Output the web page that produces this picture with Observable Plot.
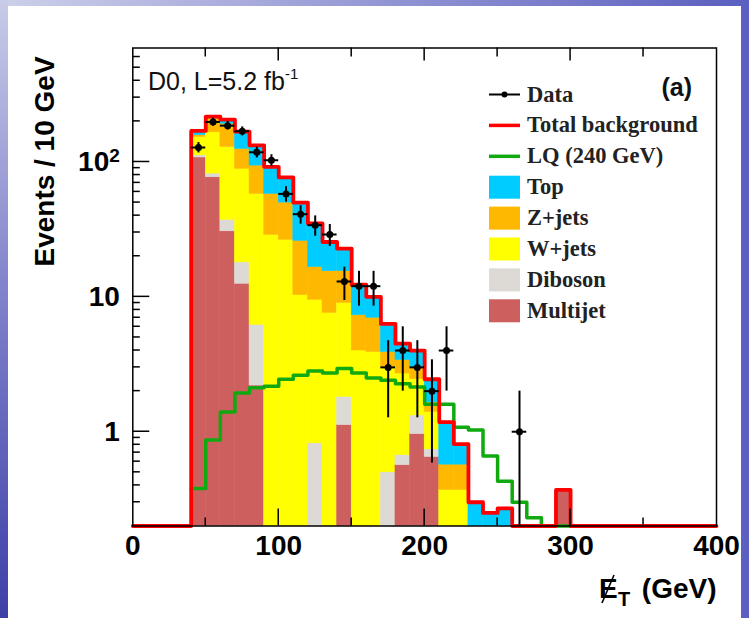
<!DOCTYPE html>
<html><head><meta charset="utf-8">
<script src="https://cdn.jsdelivr.net/npm/d3@7"></script>
<script src="https://cdn.jsdelivr.net/npm/@observablehq/plot@0.6"></script>
<style>
html,body{margin:0;padding:0;}
#slide{position:relative;width:749px;height:618px;overflow:hidden;
 background:linear-gradient(to right,#cdd0ea 0%,#9a9dd6 45%,#5b5fbf 100%);}
#leftstrip{position:absolute;left:0;top:0;width:8px;height:618px;background:linear-gradient(to bottom,#c9cbe8,#8385cc 45%,#3d3fa8);}
#panel{position:absolute;left:8px;top:6px;width:733px;height:612px;background:#fff;}
#chart{position:absolute;left:0;top:0;}
</style></head>
<body><div id="slide"><div id="leftstrip"></div><div id="panel"></div><div id="chart"></div></div>
<script>
// ---- data (bins of 10 GeV, lower edges) ----
const binStart = [40,50,60,70,80,90,100,110,120,130,140,150,160,170,180,190,200,210,220,230,240,250,260,270,280,290];
const binWidth = 10;
const multijet = [108,77,30.6,12.5,2.2,0,0,0,0,0,1.12,0,0,0,0.565,0.96,0.65,0,0,0,0,0,0,0,0,0.37];
const diboson  = [4,5,6.6,5.5,4.0,0,0,0,0.82,0,0.69,0,0,0.5,0.105,0.36,0.09,0,0,0,0,0,0,0,0,0];
const wjets    = [41,84,91.8,71,51.8,28.8,26.5,10.3,8.7,7.6,7.2,4.0,3.9,2.5,2.03,1.13,0.66,0.37,0.37,0.1,0.08,0.05,0,0,0,0];
const zjets    = [5,44,63,36,36,29.2,23.5,15.7,7.1,7.9,6.5,3.3,3.1,0.9,0.7,0.55,0.25,0.2,0.2,0.05,0.07,0.05,0,0,0,0];
const topq     = [12,7,14,43,39,34,27,24,18.4,10,7.3,5.0,3.0,2.4,1.1,1.0,0.8,0.61,0.24,0.15,0.10,0.17,0,0,0,0];
const lq240    = [0.38,0.87,1.40,1.94,2.12,2.17,2.45,2.62,2.82,2.73,2.94,2.73,2.50,2.41,2.27,2.15,1.60,1.60,1.08,1.03,0.66,0.43,0.30,0.23,0.15,0.10];
const dataCounts = [128,198,186,169,118,103,58,41,34,29,13,12,12,3,4,3,2,4,0,0,0,0,1,0,0,0];

const components = ["Multijet","Diboson","W+jets","Z+jets","Top"];
const compColors = ["#cd5f5f","#ddd9d5","#ffff00","#ffb800","#00ccff"];
const legendLabels = ["Data","Total background","LQ (240 GeV)","Top","Z+jets","W+jets","Diboson","Multijet"];
const xTicks = [0,100,200,300,400];
const xMinorTicks = [50,150,250,350];
const xMajorInner = [100,200,300];
const yTicks = [1,10,100];
const yMinorTicks = [0.3,0.4,0.5,0.6,0.7,0.8,0.9,2,3,4,5,6,7,8,9,20,30,40,50,60,70,80,90,200,300,400,500,600];
const yMin = 0.2, yMax = 700;

// ---- derived tables ----
const series = [multijet, diboson, wjets, zjets, topq];
const rects = [];
binStart.forEach((x0, i) => {
  let cum = 0;
  series.forEach((s, k) => {
    const lo = cum, hi = cum + s[i];
    cum = hi;
    if (s[i] > 0 && hi > yMin) rects.push({x1: x0, x2: x0 + binWidth, y1: Math.max(lo, yMin), y2: hi, comp: components[k]});
  });
});
const totals = binStart.map((_, i) => series.reduce((a, s) => a + s[i], 0));
const cl = v => Math.max(v, yMin);
const lastEdge = binStart[binStart.length - 1] + binWidth;
const redPts = [{x: 0, y: yMin}, ...binStart.map((x, i) => ({x, y: cl(totals[i])})), {x: lastEdge, y: yMin}, {x: 400, y: yMin}];
const greenPts = [...binStart.map((x, i) => ({x, y: cl(lq240[i])})), {x: lastEdge, y: yMin}];
const dataPts = binStart.map((x, i) => ({
  x: x + binWidth / 2, x1: x, x2: x + binWidth, n: dataCounts[i],
  lo: cl(dataCounts[i] - Math.sqrt(dataCounts[i])), hi: dataCounts[i] + Math.sqrt(dataCounts[i])
})).filter(d => d.n > 0);

const plot = Plot.plot({
  width: 749, height: 618,
  marginLeft: 132.3, marginRight: 33, marginTop: 47.5, marginBottom: 92.5,
  style: {background: "transparent", fontFamily: "'Liberation Sans', Arial, sans-serif", fontWeight: "bold", fontSize: "28px", color: "black"},
  x: {domain: [0, 400]},
  y: {type: "log", domain: [yMin, yMax]},
  color: {domain: components, range: compColors},
  marks: [
    Plot.rect(rects, {x1: "x1", x2: "x2", y1: "y1", y2: "y2", fill: "comp", stroke: "comp", strokeWidth: 0.5}),
    Plot.line(greenPts, {x: "x", y: "y", curve: "step-after", stroke: "#10aa10", strokeWidth: 3.5}),
    Plot.line(redPts, {x: "x", y: "y", curve: "step-after", stroke: "#ff0000", strokeWidth: 3.8}),
    Plot.ruleX(dataPts, {x: "x", y1: "lo", y2: "hi", stroke: "black", strokeWidth: 2}),
    Plot.ruleY(dataPts, {y: "n", x1: "x1", x2: "x2", stroke: "black", strokeWidth: 2}),
    Plot.dot(dataPts, {x: "x", y: "n", r: 3.5, fill: "black"}),
    Plot.frame({stroke: "black", strokeWidth: 1.5}),
    Plot.axisX({ticks: xTicks, tickSize: 0, tickPadding: 9.5, fontSize: 28, fontWeight: "bold", label: null}),
    Plot.axisY({ticks: yTicks, tickSize: 0, tickPadding: 13, fontSize: 28, fontWeight: "bold", label: null,
      tickFormat: d => d === 100 ? "10\u00B2" : String(d)})
  ]
});
document.getElementById("chart").appendChild(plot);

// ---- inner ticks, annotations, legend ----
const svg = d3.select(plot);
const xs = plot.scale("x"), ys = plot.scale("y");
const yB = ys.apply(yMin), yT = ys.apply(yMax), xL = xs.apply(0);

// render the 10^2 tick label with a real superscript
svg.selectAll("text").filter(function() { return this.textContent === "10\u00B2"; }).each(function() {
  const t = d3.select(this);
  t.text(null);
  t.append("tspan").text("10");
  t.append("tspan").attr("font-size", 19).attr("dy", "-0.45em").text("2");
});

const g = svg.append("g").attr("stroke", "black").attr("stroke-width", 1.5);
xMajorInner.forEach(v => {
  const px = xs.apply(v);
  g.append("line").attr("x1", px).attr("x2", px).attr("y1", yB).attr("y2", yB - 17);
  g.append("line").attr("x1", px).attr("x2", px).attr("y1", yT).attr("y2", yT + 13);
});
xMinorTicks.forEach(v => {
  const px = xs.apply(v);
  g.append("line").attr("x1", px).attr("x2", px).attr("y1", yB).attr("y2", yB - 8);
  g.append("line").attr("x1", px).attr("x2", px).attr("y1", yT).attr("y2", yT + 9);
});
yTicks.forEach(v => {
  const py = ys.apply(v);
  g.append("line").attr("x1", xL).attr("x2", xL + 17).attr("y1", py).attr("y2", py);
});
yMinorTicks.forEach(v => {
  const py = ys.apply(v);
  g.append("line").attr("x1", xL).attr("x2", xL + 7.5).attr("y1", py).attr("y2", py);
});

const sans = "'Liberation Sans', Arial, sans-serif";
const serif = "'Liberation Serif', 'Times New Roman', serif";
const ann = svg.append("g").attr("text-anchor", "start");

// D0 label
const t1 = ann.append("text").attr("x", 148).attr("y", 90).attr("font-family", sans).attr("font-weight", "normal")
  .attr("font-size", 25).attr("fill", "#111");
t1.append("tspan").text("D0, L=5.2 fb");
t1.append("tspan").attr("font-size", 15).attr("dy", -11).text("-1");
ann.append("text").attr("x", 692).attr("y", 96).attr("text-anchor", "end").attr("font-family", sans)
  .attr("font-weight", "bold").attr("font-size", 25).attr("fill", "#111").text("(a)");

// Axis titles
ann.append("text").attr("transform", "translate(54,161.5) rotate(-90)").attr("text-anchor", "middle")
  .attr("font-family", sans).attr("font-weight", "bold").attr("font-size", 28).attr("fill", "black").text("Events / 10 GeV");
ann.append("text").attr("x", 599).attr("y", 598).attr("font-family", sans).attr("font-weight", "bold")
  .attr("font-size", 28).attr("fill", "black").text("E");
ann.append("line").attr("x1", 602).attr("y1", 603).attr("x2", 614).attr("y2", 575).attr("stroke", "black").attr("stroke-width", 1.6);
ann.append("text").attr("x", 618).attr("y", 606).attr("font-family", sans).attr("font-weight", "bold")
  .attr("font-size", 20).attr("fill", "black").text("T");
ann.append("text").attr("x", 716.5).attr("y", 598).attr("text-anchor", "end").attr("font-family", sans)
  .attr("font-weight", "bold").attr("font-size", 28).attr("fill", "black").text("(GeV)");

// Legend
const lg = svg.append("g").attr("text-anchor", "start");
const lx0 = 489, lx1 = 520, tx = 527;
legendLabels.forEach((lab, i) => {
  const cy = 94.5 + i * 30.9;
  if (i === 0) {
    lg.append("line").attr("x1", lx0).attr("x2", lx1).attr("y1", cy).attr("y2", cy).attr("stroke", "black").attr("stroke-width", 2);
    lg.append("circle").attr("cx", (lx0 + lx1) / 2).attr("cy", cy).attr("r", 3).attr("fill", "black");
  } else if (i === 1 || i === 2) {
    lg.append("line").attr("x1", lx0).attr("x2", lx1).attr("y1", cy).attr("y2", cy)
      .attr("stroke", i === 1 ? "#ff0000" : "#10aa10").attr("stroke-width", 3.5);
  } else {
    const k = components.indexOf(lab);
    lg.append("rect").attr("x", lx0).attr("y", cy - 11.5).attr("width", lx1 - lx0).attr("height", 23).attr("fill", compColors[k]);
  }
  lg.append("text").attr("x", tx).attr("y", cy + 7).attr("font-family", serif).attr("font-weight", "bold")
    .attr("font-size", 22.5).attr("fill", "#222").text(lab);
});
</script></body></html>
